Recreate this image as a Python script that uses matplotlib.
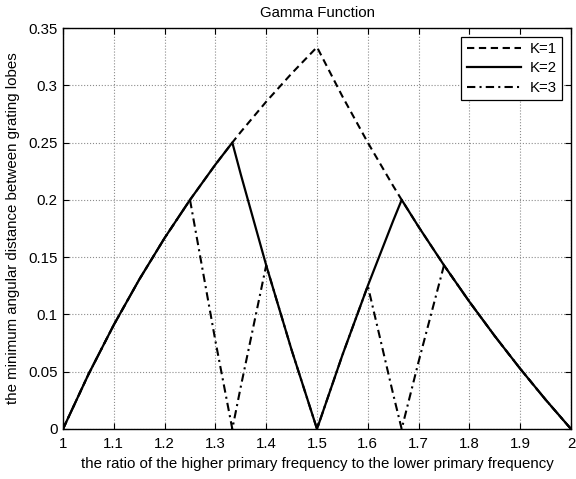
import matplotlib.pyplot as plt

plt.rcParams['font.family'] = ['Liberation Sans', 'DejaVu Sans']

# ratio of higher to lower primary frequency
ratio = [1.0, 1.05, 1.1, 1.15, 1.2, 1.25, 1.3, 1.3333, 1.35, 1.4, 1.45, 1.5,
         1.55, 1.6, 1.65, 1.6667, 1.7, 1.75, 1.8, 1.85, 1.9, 1.95, 2.0]

# minimum angular distance between grating lobes
gamma_k1 = [0.0, 0.0476, 0.0909, 0.1304, 0.1667, 0.2, 0.2308, 0.25, 0.2593, 0.2857, 0.3103, 0.3333,
            0.2903, 0.25, 0.2121, 0.2, 0.1765, 0.1429, 0.1111, 0.0811, 0.0526, 0.0256, 0.0]
gamma_k2 = [0.0, 0.0476, 0.0909, 0.1304, 0.1667, 0.2, 0.2308, 0.25, 0.2222, 0.1429, 0.069, 0.0,
            0.0645, 0.125, 0.1818, 0.2, 0.1765, 0.1429, 0.1111, 0.0811, 0.0526, 0.0256, 0.0]
gamma_k3 = [0.0, 0.0476, 0.0909, 0.1304, 0.1667, 0.2, 0.0769, 0.0, 0.037, 0.1429, 0.069, 0.0,
            0.0645, 0.125, 0.0303, 0.0, 0.0588, 0.1429, 0.1111, 0.0811, 0.0526, 0.0256, 0.0]

fs = 10.8
fig = plt.figure(figsize=(5.76, 4.79), dpi=100)
ax = fig.add_axes([63 / 576, 50 / 479, 508 / 576, 401 / 479])

ax.plot(ratio, gamma_k1, 'k', ls=(0, (3.5, 2.2)), lw=1.5, label='K=1')
ax.plot(ratio, gamma_k2, 'k-', lw=1.6, label='K=2')
ax.plot(ratio, gamma_k3, 'k', ls=(0, (4, 2, 1, 2)), lw=1.5, label='K=3')

ax.set_xlim(1, 2)
ax.set_ylim(0, 0.35)
ax.set_xticks([1, 1.1, 1.2, 1.3, 1.4, 1.5, 1.6, 1.7, 1.8, 1.9, 2])
ax.set_xticklabels(['1', '1.1', '1.2', '1.3', '1.4', '1.5', '1.6', '1.7', '1.8', '1.9', '2'])
ax.set_yticks([0, 0.05, 0.1, 0.15, 0.2, 0.25, 0.3, 0.35])
ax.set_yticklabels(['0', '0.05', '0.1', '0.15', '0.2', '0.25', '0.3', '0.35'])
ax.grid(True, color='0.55', linestyle=':', linewidth=0.8)
ax.tick_params(direction='in', top=True, right=True, labelsize=fs, length=4, width=0.8)
ax.tick_params(axis='x', pad=6)
ax.tick_params(axis='y', pad=4)
for s in ax.spines.values():
    s.set_linewidth(1.0)

ax.set_title('Gamma Function', fontsize=fs, pad=8)
ax.set_xlabel('the ratio of the higher primary frequency to the lower primary frequency', fontsize=fs, labelpad=4)
ax.set_ylabel('the minimum angular distance between grating lobes', fontsize=fs, labelpad=6)

leg = ax.legend(loc='upper right', fontsize=fs, fancybox=False, framealpha=1,
                edgecolor='k', handlelength=3.6, handletextpad=0.6, labelspacing=0.35,
                borderpad=0.35, borderaxespad=0.6)
leg.get_frame().set_linewidth(0.9)

fig.savefig('out.png', dpi=100)
